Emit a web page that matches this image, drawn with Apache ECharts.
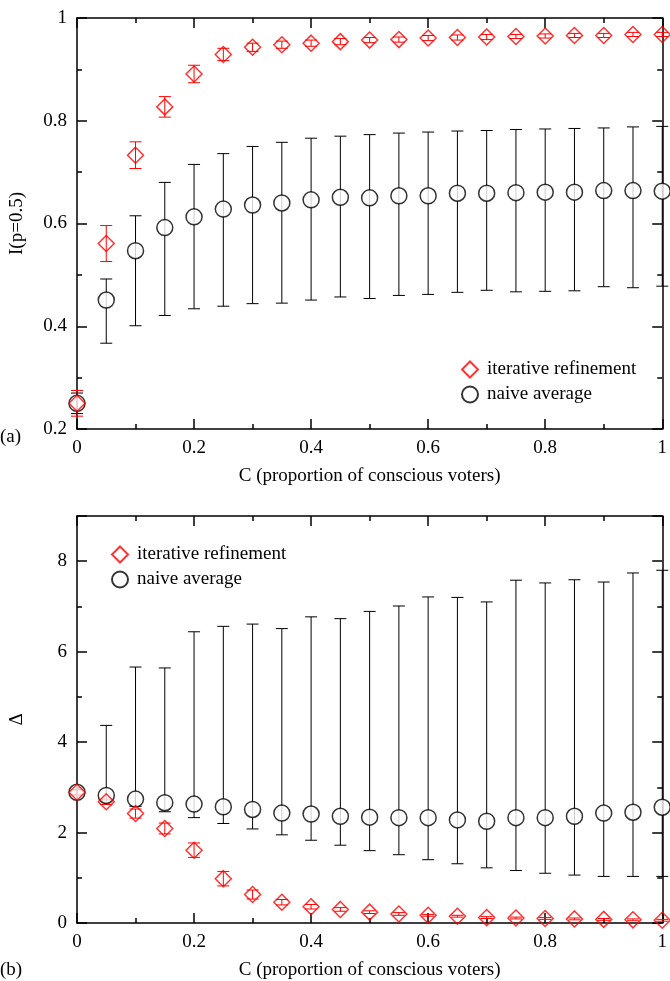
<!DOCTYPE html>
<html>
<head>
<meta charset="utf-8">
<script src="https://cdn.jsdelivr.net/npm/echarts@6/dist/echarts.min.js"></script>
<style>html,body{margin:0;padding:0;background:#fff}#c{width:670px;height:981px}</style>
</head>
<body>
<div id="c"></div>
<script>
// x values: C (proportion of conscious voters)
const cVals = [0,0.05,0.1,0.15,0.2,0.25,0.3,0.35,0.4,0.45,0.5,0.55,0.6,0.65,0.7,0.75,0.8,0.85,0.9,0.95,1];

// panel (a): I(p=0.5)
const iterI    = [0.25,0.561,0.733,0.827,0.891,0.929,0.943,0.948,0.951,0.954,0.957,0.958,0.961,0.962,0.963,0.964,0.965,0.966,0.966,0.968,0.968];
const iterIErr = [0.025,0.035,0.026,0.02,0.017,0.012,0.008,0.007,0.006,0.006,0.005,0.005,0.005,0.005,0.005,0.004,0.004,0.004,0.004,0.004,0.004];
const naiveI   = [0.25,0.451,0.547,0.592,0.613,0.628,0.636,0.640,0.646,0.651,0.650,0.654,0.654,0.659,0.659,0.660,0.661,0.661,0.664,0.664,0.663];
const naiveIHi = [0.27,0.492,0.615,0.680,0.715,0.736,0.750,0.758,0.766,0.770,0.773,0.776,0.778,0.780,0.781,0.783,0.784,0.785,0.786,0.788,0.789];
const naiveILo = [0.23,0.367,0.401,0.421,0.434,0.439,0.444,0.445,0.451,0.457,0.454,0.460,0.462,0.466,0.470,0.467,0.468,0.469,0.477,0.475,0.478];

// panel (b): Delta
const iterD    = [2.89,2.68,2.42,2.09,1.61,0.98,0.63,0.46,0.36,0.30,0.24,0.20,0.17,0.15,0.12,0.11,0.10,0.09,0.08,0.07,0.06];
const iterDErr = [0.05,0.06,0.1,0.12,0.16,0.16,0.1,0.06,0.05,0.04,0.03,0.03,0.02,0.02,0.02,0.02,0.02,0.02,0.02,0.02,0.02];
const naiveD   = [2.89,2.82,2.74,2.66,2.63,2.57,2.51,2.43,2.41,2.36,2.34,2.33,2.33,2.28,2.25,2.33,2.33,2.36,2.43,2.45,2.56];
const naiveDHi = [2.95,4.37,5.66,5.64,6.44,6.56,6.61,6.51,6.77,6.73,6.89,7.01,7.21,7.20,7.10,7.58,7.52,7.59,7.54,7.74,7.80];
const naiveDLo = [2.83,2.72,2.58,2.46,2.33,2.20,2.08,1.95,1.83,1.72,1.60,1.51,1.40,1.31,1.22,1.16,1.10,1.06,1.03,1.03,1.03];

const xTickLabels = ['0','0.2','0.4','0.6','0.8','1'];
const seriesNames = ['iterative refinement','naive average'];

const FONT = '"Liberation Serif","Times New Roman",serif';
const RED = '#ff0000';

function pts(vals){ return cVals.map((x,i)=>[x, vals[i]]); }
function symErr(vals, err){ return cVals.map((x,i)=>[x, vals[i]-err[i], vals[i]+err[i]]); }
function asymErr(lo, hi){ return cVals.map((x,i)=>[x, lo[i], hi[i]]); }

function errSeries(data, color, xi, yi){
  return {
    type:'custom', xAxisIndex:xi, yAxisIndex:yi, silent:true,
    data:data, encode:{x:0, y:[1,2]},
    renderItem:function(params, api){
      const x = api.value(0), lo = api.value(1), hi = api.value(2);
      const pLo = api.coord([x, lo]), pHi = api.coord([x, hi]);
      const w = 6;
      const st = {stroke:color, lineWidth:1};
      return {type:'group', children:[
        {type:'line', shape:{x1:pLo[0], y1:pLo[1], x2:pHi[0], y2:pHi[1]}, style:st},
        {type:'line', shape:{x1:pLo[0]-w, y1:pLo[1], x2:pLo[0]+w, y2:pLo[1]}, style:st},
        {type:'line', shape:{x1:pHi[0]-w, y1:pHi[1], x2:pHi[0]+w, y2:pHi[1]}, style:st}
      ]};
    },
    z:2
  };
}

const axisLine = {show:true, onZero:false, lineStyle:{color:'#000', width:1.5}};
function xAxisMain(gi){
  return {type:'value', gridIndex:gi, min:0, max:1, interval:0.2,
    axisLine:axisLine,
    axisTick:{show:true, inside:true, length:10, lineStyle:{color:'#000', width:1.5}},
    minorTick:{show:true, splitNumber:2, length:5, lineStyle:{color:'#000', width:1.5}},
    splitLine:{show:false},
    axisLabel:{color:'#000', fontFamily:FONT, fontSize:19, margin:10,
      formatter:function(v){ const i = Math.round(v/0.2); return xTickLabels[i]; }},
    name:'C (proportion of conscious voters)', nameLocation:'middle', nameGap:38,
    nameTextStyle:{color:'#000', fontFamily:FONT, fontSize:19}
  };
}
function xAxisTop(gi){
  return {type:'value', gridIndex:gi, position:'top', min:0, max:1, interval:0.2,
    axisLine:axisLine,
    axisTick:{show:true, inside:true, length:10, lineStyle:{color:'#000', width:1.5}},
    minorTick:{show:true, splitNumber:2, length:5, lineStyle:{color:'#000', width:1.5}},
    splitLine:{show:false}, axisLabel:{show:false}};
}
function yAxisMain(gi, min, max, interval, name, nameGap){
  return {type:'value', gridIndex:gi, min:min, max:max, interval:interval,
    axisLine:axisLine,
    axisTick:{show:true, inside:true, length:10, lineStyle:{color:'#000', width:1.5}},
    minorTick:{show:true, splitNumber:2, length:5, lineStyle:{color:'#000', width:1.5}},
    splitLine:{show:false},
    axisLabel:{color:'#000', fontFamily:FONT, fontSize:19, margin:10, showMaxLabel:gi===0},
    name:name, nameLocation:'middle', nameGap:nameGap,
    nameTextStyle:{color:'#000', fontFamily:FONT, fontSize:19}
  };
}
function yAxisRight(gi, min, max, interval){
  return {type:'value', gridIndex:gi, position:'right', min:min, max:max, interval:interval,
    axisLine:axisLine,
    axisTick:{show:true, inside:true, length:10, lineStyle:{color:'#000', width:1.5}},
    minorTick:{show:true, splitNumber:2, length:5, lineStyle:{color:'#000', width:1.5}},
    splitLine:{show:false}, axisLabel:{show:false}};
}

const diamondStyle = {color:'rgba(0,0,0,0)', borderColor:RED, borderWidth:1.5};
const circleStyle = {color:'#fff', borderColor:'#000', borderWidth:1.5};

const chart = echarts.init(document.getElementById('c'), null, {renderer:'canvas'});
chart.setOption({
  animation:false,
  backgroundColor:'#fff',
  grid:[
    {left:77, top:18, width:589, height:411},
    {left:77, top:516, width:589, height:412}
  ],
  xAxis:[xAxisMain(0), xAxisTop(0), xAxisMain(1), xAxisTop(1)],
  yAxis:[
    yAxisMain(0, 0.2, 1, 0.2, 'I(p=0.5)', 50), yAxisRight(0, 0.2, 1, 0.2),
    yAxisMain(1, 0, 9, 2, 'Δ', 50), yAxisRight(1, 0, 9, 2)
  ],
  legend:[
    {left:456, top:355, orient:'vertical', itemWidth:16, itemHeight:16, itemGap:6,
     data:seriesNames, selectedMode:false,
     textStyle:{color:'#000', fontFamily:FONT, fontSize:19, padding:[0,0,0,4]}},
    {left:106, top:540, orient:'vertical', itemWidth:16, itemHeight:16, itemGap:6,
     data:seriesNames, selectedMode:false,
     textStyle:{color:'#000', fontFamily:FONT, fontSize:19, padding:[0,0,0,4]}}
  ],
  graphic:[
    {type:'text', left:0, top:428, style:{text:'(a)', font:'19px '+FONT, fill:'#000'}},
    {type:'text', left:0, top:961, style:{text:'(b)', font:'19px '+FONT, fill:'#000'}}
  ],
  series:[
    errSeries(asymErr(naiveILo, naiveIHi), '#000', 0, 0),
    {name:seriesNames[1], type:'scatter', xAxisIndex:0, yAxisIndex:0, data:pts(naiveI),
     symbol:'circle', symbolSize:16, itemStyle:circleStyle, z:3},
    errSeries(symErr(iterI, iterIErr), RED, 0, 0),
    {name:seriesNames[0], type:'scatter', xAxisIndex:0, yAxisIndex:0, data:pts(iterI),
     symbol:'diamond', symbolSize:16, itemStyle:diamondStyle, z:5},

    errSeries(asymErr(naiveDLo, naiveDHi), '#000', 2, 2),
    {name:seriesNames[1], type:'scatter', xAxisIndex:2, yAxisIndex:2, data:pts(naiveD),
     symbol:'circle', symbolSize:16, itemStyle:circleStyle, z:3},
    errSeries(symErr(iterD, iterDErr), RED, 2, 2),
    {name:seriesNames[0], type:'scatter', xAxisIndex:2, yAxisIndex:2, data:pts(iterD),
     symbol:'diamond', symbolSize:16, itemStyle:diamondStyle, z:5}
  ]
});
</script>
</body>
</html>
